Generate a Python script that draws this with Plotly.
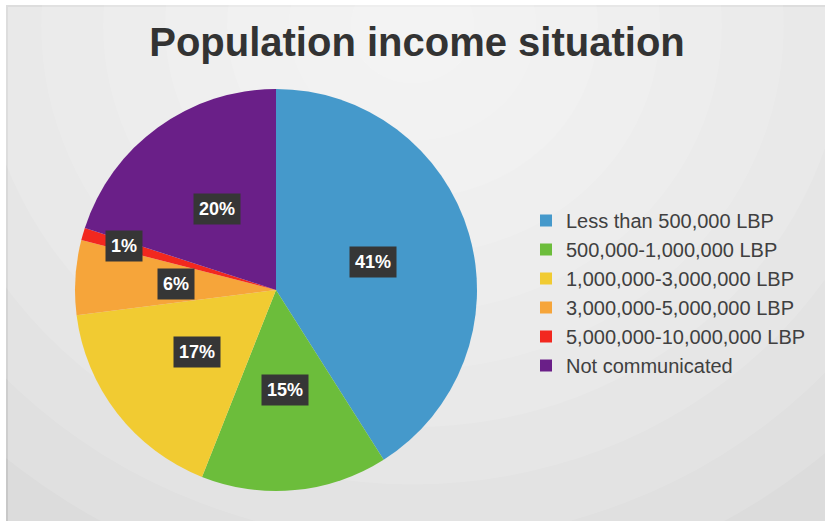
import math
import plotly.graph_objects as go

categories = ["Less than 500,000 LBP", "500,000-1,000,000 LBP", "1,000,000-3,000,000 LBP",
              "3,000,000-5,000,000 LBP", "5,000,000-10,000,000 LBP", "Not communicated"]
values = [41, 15, 17, 6, 1, 20]
colors = ["#4599cb", "#6cbd3b", "#f1cb32", "#f6a53a", "#f2281f", "#6a1f88"]
label_radius = [0.5, 0.5, 0.5, 0.5, 0.79, 0.5]

W, H = 825, 521
cx, cy, R = 276, 290, 201  # pie centre / radius in pixels (from top)

fig = go.Figure(go.Pie(
    labels=categories, values=values, sort=False, direction="clockwise", rotation=0,
    marker=dict(colors=colors, line=dict(width=0)), textinfo="none", hoverinfo="label+percent",
    domain=dict(x=[(cx - R) / W, (cx + R) / W], y=[(H - cy - R) / H, (H - cy + R) / H]),
))

# background panel with soft radial gradient
shapes = [dict(type="rect", xref="paper", yref="paper", x0=7 / W, x1=1.01, y0=-0.01, y1=1 - 6 / H,
               fillcolor="#dcdcdc", line=dict(color="#c8c8c8", width=2), layer="below")]
for i in range(10):
    f = 1 - i / 10
    shapes.append(dict(type="circle", xref="paper", yref="paper",
                       x0=0.5 - 0.75 * f, x1=0.5 + 0.75 * f, y0=0.95 - 1.1 * f, y1=0.95 + 1.1 * f,
                       fillcolor="rgba(255,255,255,0.12)", line=dict(width=0), layer="below"))

annotations = []
total = sum(values)
cum = 0
for v, rf in zip(values, label_radius):
    mid = (cum + v / 2) / total * 2 * math.pi
    cum += v
    px = cx + rf * R * math.sin(mid)
    py = cy - rf * R * math.cos(mid)
    annotations.append(dict(x=px / W, y=1 - py / H, xref="paper", yref="paper",
                            xanchor="center", yanchor="middle",
                            text=f"<b>{round(v / total * 100)}%</b>", showarrow=False,
                            font=dict(family="Liberation Sans, Arial", size=18, color="white"),
                            bgcolor="#363636", borderpad=5))

fig.update_layout(
    width=W, height=H, margin=dict(l=0, r=0, t=0, b=0),
    paper_bgcolor="white", plot_bgcolor="white",
    shapes=shapes, annotations=annotations,
    title=dict(text="<b>Population income situation</b>", x=417 / W, xanchor="center",
               y=1 - 42 / H, yanchor="middle",
               font=dict(family="Liberation Sans, Arial", size=40, color="#333333")),
    legend=dict(x=526 / W, y=1 - 201 / H, xanchor="left", yanchor="top",
                font=dict(family="Liberation Sans, Arial", size=20, color="#404040"),
                bgcolor="rgba(0,0,0,0)", itemwidth=30),
    showlegend=True,
)

fig.write_html("out.html", config={"displayModeBar": False},
               post_script="document.body.style.margin='0';")
